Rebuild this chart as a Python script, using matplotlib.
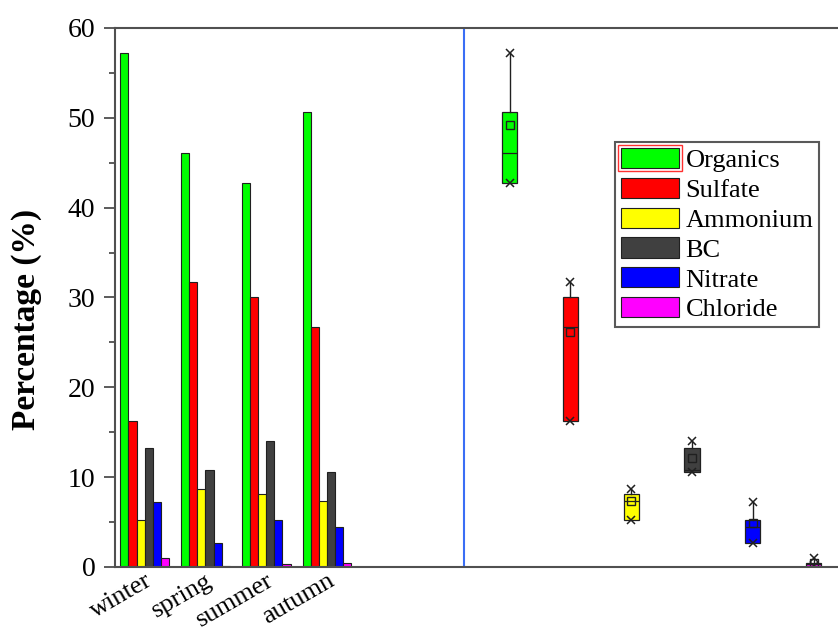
import numpy as np
import matplotlib
matplotlib.use("Agg")
import matplotlib.pyplot as plt
from matplotlib.patches import Rectangle
from matplotlib.transforms import ScaledTranslation

plt.rcParams['font.family'] = ['Liberation Serif', 'DejaVu Serif']

seasons = ["winter", "spring", "summer", "autumn"]
species = ["Organics", "Sulfate", "Ammonium", "BC", "Nitrate", "Chloride"]
colors = ["#00ff00", "#ff0000", "#ffff00", "#404040", "#0000ff", "#ff00ff"]

# percentage of each species per season
organics = [57.2, 46.1, 42.7, 50.6]
sulfate = [16.3, 31.7, 30.0, 26.7]
ammonium = [5.2, 8.7, 8.1, 7.3]
bc = [13.3, 10.8, 14.0, 10.6]
nitrate = [7.2, 2.7, 5.2, 4.5]
chloride = [1.0, 0.1, 0.3, 0.4]

series = [organics, sulfate, ammonium, bc, nitrate, chloride]

fig = plt.figure(figsize=(8.38, 6.30), dpi=100)
ax = fig.add_axes([0.137, 0.1, 0.863, 0.8556])

# grouped bars, one group per season
x = np.arange(len(seasons))
width = 0.133
for i, (vals, col, name) in enumerate(zip(series, colors, species)):
    ax.bar(x - 2.5 * width + i * width, vals, width, color=col,
           edgecolor="#202020", linewidth=0.8, label=name)

# box summary of each species across the four seasons
box_pos = np.arange(len(species)) + 6
stats = []
for vals in series:
    s = sorted(vals)
    stats.append(dict(med=s[1], q1=s[0], q3=s[2], whislo=s[0], whishi=s[3],
                      mean=np.mean(vals), fliers=[]))
bp = ax.bxp(stats, positions=box_pos, widths=0.25, showmeans=True,
            showcaps=False, patch_artist=True,
            boxprops=dict(edgecolor="#202020", linewidth=0.9),
            medianprops=dict(color="#202020", linewidth=0.9),
            whiskerprops=dict(color="#202020", linewidth=1.0),
            meanprops=dict(marker="s", markerfacecolor="none",
                           markeredgecolor="#202020", markersize=6,
                           markeredgewidth=1.0))
for patch, col in zip(bp["boxes"], colors):
    patch.set_facecolor(col)
for pos, st in zip(box_pos, stats):
    ax.plot([pos, pos], [st["whishi"], st["whislo"]], linestyle="none",
            marker="x", color="#202020", markersize=5.5, markeredgewidth=1.1)

ax.axvline(5.25, color="#3a6ef5", linewidth=1.5)

ax.set_xlim(-0.49, 11.40)
ax.set_ylim(0, 60)
ax.set_yticks(np.arange(0, 61, 10))
ax.set_yticks(np.arange(5, 60, 10), minor=True)
ax.set_xticks(x)
ax.set_xticklabels(seasons, rotation=30, ha="right", va="top",
                   rotation_mode="anchor", fontsize=19)
shift = ScaledTranslation(6 / 100, 0, fig.dpi_scale_trans)
for lbl in ax.get_xticklabels():
    lbl.set_transform(lbl.get_transform() + shift)
ax.tick_params(axis="x", length=0, pad=2)
ax.tick_params(axis="y", which="major", length=8, width=1.2, labelsize=20,
               pad=6, color="#404040")
ax.tick_params(axis="y", which="minor", length=4.5, width=1.2, color="#404040")
ax.set_ylabel("Percentage (%)", fontsize=24, fontweight="bold")
ax.yaxis.set_label_coords(-0.10, 0.46)

ax.spines["right"].set_visible(False)
for side in ["left", "top", "bottom"]:
    ax.spines[side].set_color("#505050")
    ax.spines[side].set_linewidth(1.5)

leg = ax.legend(loc="upper left", bbox_to_anchor=(0.6916, 0.788), fontsize=19,
                frameon=True, fancybox=False, edgecolor="#303030",
                handlelength=2.2, handleheight=0.8, labelspacing=0.21,
                handletextpad=0.25, borderpad=0.22, borderaxespad=0)
leg.get_frame().set_linewidth(1.5)

# thin red selection frame around the first legend key
fig.canvas.draw()
bb = leg.get_patches()[0].get_window_extent()
fig.patches.append(Rectangle((bb.x0 - 3, bb.y0 - 3), bb.width + 6,
                             bb.height + 6, transform=None, fill=False,
                             edgecolor="#ff3030", linewidth=1.0))

fig.savefig("out.png", dpi=100)
